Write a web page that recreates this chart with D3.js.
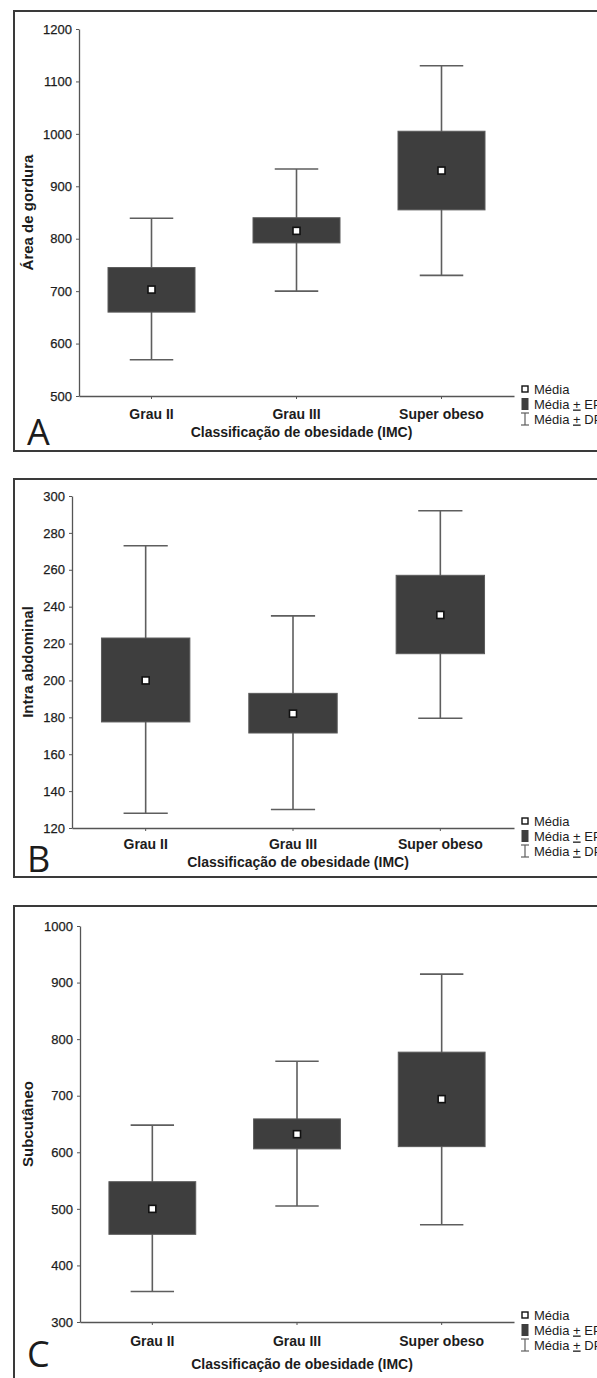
<!DOCTYPE html>
<html>
<head>
<meta charset="utf-8">
<script src="https://cdn.jsdelivr.net/npm/d3@7"></script>
<style>
  body { margin: 0; background: #fff; }
  svg text { font-family: "Liberation Sans", Arial, sans-serif; fill: #1c1c1c; }
  .tick text { font-size: 13px; stroke: #1c1c1c; stroke-width: 0.25px; }
  .xaxis .tick text { font-size: 14px; font-weight: bold; stroke: none; }
  .title { font-size: 14px; font-weight: bold; }
  .legend text { font-size: 13px; }
  .letter { font-family: "Open Sans", sans-serif !important; font-size: 36px; }
</style>
</head>
<body>
<div id="chart"></div>
<script>
const categories = ["Grau II", "Grau III", "Super obeso"];

// A - Área de gordura
const gorduraMedia = [703, 815, 930];
const gorduraEP = [[660, 745], [792, 840], [855, 1005]];
const gorduraDP = [[569, 839], [700, 933], [730, 1130]];
const gorduraTicks = [500, 600, 700, 800, 900, 1000, 1100, 1200];

// B - Intra abdominal
const intraMedia = [200, 182, 235.5];
const intraEP = [[177.5, 223], [171.5, 193], [214.5, 257]];
const intraDP = [[128, 273], [130, 235], [179.5, 292]];
const intraTicks = [120, 140, 160, 180, 200, 220, 240, 260, 280, 300];

// C - Subcutâneo
const subMedia = [500, 632, 694];
const subEP = [[455, 548], [606, 659], [610, 777]];
const subDP = [[354, 648], [505, 761], [472, 915]];
const subTicks = [300, 400, 500, 600, 700, 800, 900, 1000];

const xTitle = "Classificação de obesidade (IMC)";
const legendLabels = ["Média", "Média ", "Média "];
const legendSuffix = ["", "EP", "DP"];

const width = 597, height = 1378;
const svg = d3.select("#chart").append("svg")
  .attr("width", width)
  .attr("height", height);

// layout of each panel (pixels)
const panels = [
  { letter: "A", yLabel: "Área de gordura", media: gorduraMedia, ep: gorduraEP, dp: gorduraDP,
    ticks: gorduraTicks, top: 11, bottom: 451, axisX: 79, yTop: 29, yBottom: 396,
    catPad: 10, titleOff: 41, letterOff: 49 },
  { letter: "B", yLabel: "Intra abdominal", media: intraMedia, ep: intraEP, dp: intraDP,
    ticks: intraTicks, top: 479, bottom: 877, axisX: 72, yTop: 496, yBottom: 828,
    catPad: 8, titleOff: 39, letterOff: 44 },
  { letter: "C", yLabel: "Subcutâneo", media: subMedia, ep: subEP, dp: subDP,
    ticks: subTicks, top: 906, bottom: 1400, axisX: 80, yTop: 926, yBottom: 1322,
    catPad: 11, titleOff: 47, letterOff: 45 }
];

const xRight = 514;

const drawPanel = (p) => {
  const g = svg.append("g");

  g.append("rect")
    .attr("x", 14)
    .attr("y", p.top)
    .attr("width", width)
    .attr("height", p.bottom - p.top)
    .attr("fill", "none")
    .attr("stroke", "#3a3a3a")
    .attr("stroke-width", 2);

  const y = d3.scaleLinear()
    .domain(d3.extent(p.ticks))
    .range([p.yBottom, p.yTop]);
  const x = d3.scaleBand()
    .domain(categories)
    .range([p.axisX, xRight])
    .padding(0);

  const yAxis = g.append("g")
    .attr("transform", `translate(${p.axisX},0)`)
    .call(d3.axisLeft(y).tickValues(p.ticks).tickFormat(d3.format("d"))
      .tickSize(3).tickSizeOuter(0).tickPadding(4));
  const xAxis = g.append("g")
    .attr("class", "xaxis")
    .attr("transform", `translate(0,${p.yBottom})`)
    .call(d3.axisBottom(x).tickSize(3).tickSizeOuter(0).tickPadding(p.catPad));
  [yAxis, xAxis].forEach((a) => {
    a.select(".domain").attr("stroke", "#555").attr("stroke-width", 1.3);
    a.selectAll(".tick line").attr("stroke", "#555");
  });

  const bw = x.bandwidth();
  const cx = (i) => x(categories[i]) + bw / 2;
  const rows = categories.map((c, i) => ({ i, media: p.media[i], ep: p.ep[i], dp: p.dp[i] }));

  // Média ± DP whiskers
  g.selectAll("line.dp")
    .data(rows)
    .enter()
    .append("line")
    .attr("class", "dp")
    .attr("x1", (d) => cx(d.i))
    .attr("x2", (d) => cx(d.i))
    .attr("y1", (d) => y(d.dp[0]))
    .attr("y2", (d) => y(d.dp[1]))
    .attr("stroke", "#5e5e5e")
    .attr("stroke-width", 1.6);
  ["0", "1"].forEach((k) => {
    g.selectAll(`line.cap${k}`)
      .data(rows)
      .enter()
      .append("line")
      .attr("class", `cap${k}`)
      .attr("x1", (d) => cx(d.i) - bw * 0.15)
      .attr("x2", (d) => cx(d.i) + bw * 0.15)
      .attr("y1", (d) => y(d.dp[+k]))
      .attr("y2", (d) => y(d.dp[+k]))
      .attr("stroke", "#5e5e5e")
      .attr("stroke-width", 1.6);
  });

  // Média ± EP boxes
  g.selectAll("rect.ep")
    .data(rows)
    .enter()
    .append("rect")
    .attr("class", "ep")
    .attr("x", (d) => cx(d.i) - bw * 0.3)
    .attr("width", bw * 0.6)
    .attr("y", (d) => y(d.ep[1]))
    .attr("height", (d) => y(d.ep[0]) - y(d.ep[1]))
    .attr("fill", "#3e3e3e")
    .attr("stroke", "#5a5a5a")
    .attr("stroke-width", 1);

  // Média
  g.selectAll("rect.media")
    .data(rows)
    .enter()
    .append("rect")
    .attr("class", "media")
    .attr("x", (d) => cx(d.i) - 3.5)
    .attr("y", (d) => y(d.media) - 3.5)
    .attr("width", 7)
    .attr("height", 7)
    .attr("fill", "#fff")
    .attr("stroke", "#111")
    .attr("stroke-width", 1.6);

  // axis titles
  g.append("text")
    .attr("class", "title")
    .attr("text-anchor", "middle")
    .attr("transform", `translate(33,${(p.yTop + p.yBottom) / 2}) rotate(-90)`)
    .style("font-size", "15px")
    .text(p.yLabel);
  g.append("text")
    .attr("class", "title")
    .attr("text-anchor", "middle")
    .attr("x", (p.axisX + xRight) / 2 + 5)
    .attr("y", p.yBottom + p.titleOff)
    .text(xTitle);

  g.append("text")
    .attr("class", "letter")
    .attr("x", 27)
    .attr("y", p.yBottom + p.letterOff)
    .text(p.letter);

  // legend
  const lg = g.append("g").attr("class", "legend").attr("transform", `translate(525,${p.yBottom})`);
  const rowY = [-7, 8, 23];
  lg.append("rect")
    .attr("x", -3).attr("y", rowY[0] - 3).attr("width", 6).attr("height", 6)
    .attr("fill", "#fff").attr("stroke", "#111").attr("stroke-width", 1.4);
  lg.append("rect")
    .attr("x", -3.5).attr("y", rowY[1] - 6).attr("width", 7).attr("height", 12)
    .attr("fill", "#3e3e3e");
  lg.append("line")
    .attr("x1", 0).attr("x2", 0).attr("y1", rowY[2] - 6).attr("y2", rowY[2] + 6)
    .attr("stroke", "#5e5e5e").attr("stroke-width", 1.2);
  [-6, 6].forEach((o) => {
    lg.append("line")
      .attr("x1", -4).attr("x2", 4).attr("y1", rowY[2] + o).attr("y2", rowY[2] + o)
      .attr("stroke", "#5e5e5e").attr("stroke-width", 1.2);
  });
  legendLabels.forEach((lab, i) => {
    const t = lg.append("text")
      .attr("x", 9)
      .attr("y", rowY[i] + 4.5)
      .text(lab);
    if (legendSuffix[i]) {
      t.append("tspan").style("text-decoration", "underline").text("+");
      t.append("tspan").text(" " + legendSuffix[i]);
    }
  });
};

panels.forEach(drawPanel);
</script>
</body>
</html>
